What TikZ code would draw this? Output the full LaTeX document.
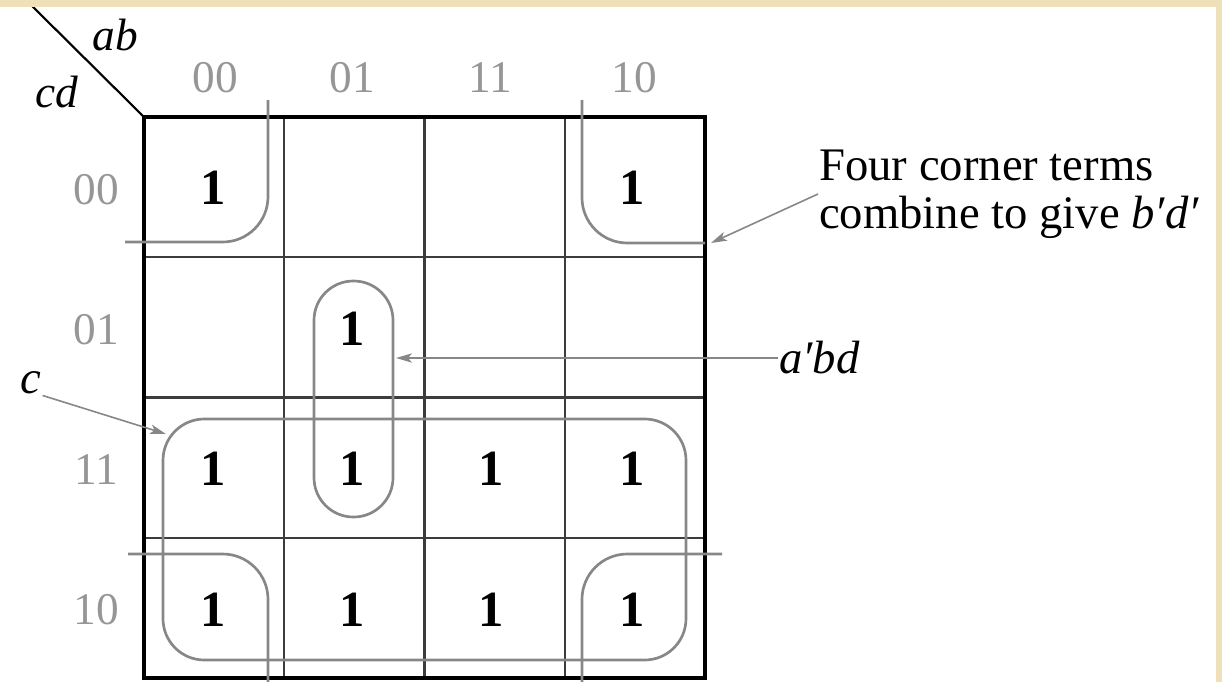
\documentclass[tikz,border=0pt]{standalone}
\usepackage{fontspec}
\setmainfont{Liberation Serif}
\usetikzlibrary{arrows.meta}

\definecolor{paper}{RGB}{238,224,184}
\definecolor{gridgray}{RGB}{60,60,60}
\definecolor{loopgray}{RGB}{135,135,135}
\definecolor{labgray}{RGB}{150,150,150}

\tikzset{
  cellline/.style={draw=gridgray, line width=1.7pt},
  groupline/.style={draw=loopgray, line width=2pt},
  pointer/.style={draw=loopgray, line width=1.2pt, -{Stealth[length=12pt,width=7pt,inset=3pt]}},
  one/.style={font=\fontsize{38}{38}\selectfont\bfseries, inner sep=0.75pt},
  axis/.style={font=\fontsize{34}{34}\selectfont, text=labgray, inner sep=0.75pt},
  varname/.style={font=\fontsize{34}{34}\selectfont\itshape, inner sep=0.75pt},
  note/.style={font=\fontsize{35}{36}\selectfont, align=left, inner sep=0.75pt}
}

\begin{document}
\begin{tikzpicture}[x=0.75pt,y=0.75pt,yscale=-1]
\useasboundingbox (0,0) rectangle (1222,682);

%Diagonal of the header cell
\draw [line width=1.6pt] (26,0) -- (144,117) ;

%Inner cell lines
\draw [cellline] (284.25,117) -- (284.25,678) ;
\draw [cellline] (424.5,117) -- (424.5,678) ;
\draw [cellline] (564.75,117) -- (564.75,678) ;
\draw [cellline] (144,257.25) -- (705,257.25) ;
\draw [cellline] (144,397.5) -- (705,397.5) ;
\draw [cellline] (144,537.75) -- (705,537.75) ;
%Outer frame
\draw [line width=2.3pt] (144,117) rectangle (705,678) ;

%Corner groups b'd'
\draw [groupline, rounded corners=34pt] (268,100) -- (268,242) -- (125,242) ;
\draw [groupline, rounded corners=34pt] (582,100) -- (582,243) -- (705,243) ;
\draw [groupline, rounded corners=34pt] (128,554) -- (268,554) -- (268,682) ;
\draw [groupline, rounded corners=34pt] (722,554) -- (582,554) -- (582,682) ;
%Group c
\draw [groupline, rounded corners=31pt] (163,419) rectangle (686,660) ;
%Group a'bd
\draw [groupline, rounded corners=29.5pt] (314,281) rectangle (393,517) ;

% Variable names
\node [varname] (ab) at (115,35) {ab};
\node [varname] (cd) at (57,92) {cd};

% Column labels
\node [axis] (col00) at (215,78) {00};
\node [axis] (col01) at (352,78) {01};
\node [axis] (col11) at (490,78) {11};
\node [axis] (col10) at (634,78) {10};
% Row labels
\node [axis] (row00) at (96,190) {00};
\node [axis] (row01) at (96,330) {01};
\node [axis] (row11) at (96,470) {11};
\node [axis] (row10) at (96,610) {10};

% Minterms
\node [one] (m0) at (213,188) {1};
\node [one] (m8) at (632,188) {1};
\node [one] (m5) at (352,329) {1};
\node [one] (m3) at (213,469) {1};
\node [one] (m7) at (352,469) {1};
\node [one] (m15) at (491,469) {1};
\node [one] (m11) at (632,469) {1};
\node [one] (m2) at (213,610) {1};
\node [one] (m6) at (352,610) {1};
\node [one] (m14) at (491,610) {1};
\node [one] (m10) at (632,610) {1};

% Notes
\node [note, anchor=west] (corners) at (818,194) {Four corner terms\\combine to give \textit{b\char"2032d\char"2032}};
\node [note, anchor=west] (abd) at (778,358) {\textit{a\char"2032bd}};
\node [note] (c) at (31,383) {\textit{c}};

% Pointers to the groups
\coordinate (cornerhit) at (711,243);
\coordinate (abdhit) at (396,358);
\coordinate (chit) at (166,434);
\draw [pointer] (corners.west) -- (cornerhit) ;
\draw [pointer] (abd.west) -- (abdhit) ;
\draw [pointer] (c.south east) -- (chit) ;

%Paper edge
\fill [paper] (0,0) rectangle (1222,7) ;
\fill [paper] (1216,0) rectangle (1222,682) ;

\end{tikzpicture}
\end{document}
